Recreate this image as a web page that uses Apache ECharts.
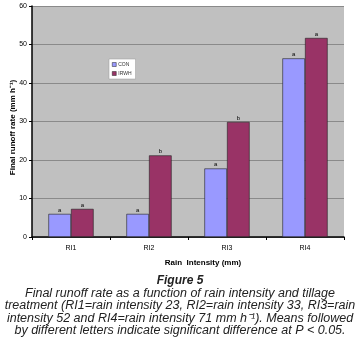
<!DOCTYPE html>
<html>
<head>
<meta charset="utf-8">
<script src="https://cdn.jsdelivr.net/npm/echarts@6/dist/echarts.min.js"></script>
<style>
  html, body { margin: 0; padding: 0; background: #fff; }
  #chart { width: 359px; height: 356px; }
</style>
</head>
<body>
<div id="chart"></div>
<script>
// data
const categories = ['RI1', 'RI2', 'RI3', 'RI4'];
const conValues = [6.0, 6.0, 17.8, 46.4];
const irwhValues = [7.3, 21.2, 29.9, 51.7];
const conLetters = ['a', 'a', 'a', 'a'];
const irwhLetters = ['a', 'b', 'b', 'a'];
const captionLines = [
  'Final runoff rate as a function of rain intensity and tillage',
  'treatment (RI1=rain intensity 23, RI2=rain intensity 33, RI3=rain',
  'intensity 52 and RI4=rain intensity 71 mm h\u207B\u00B9). Means followed',
  'by different letters indicate significant difference at P < 0.05.'
];

const chart = echarts.init(document.getElementById('chart'), null, { renderer: 'canvas' });

function letterLabel(letters) {
  return {
    show: true,
    position: 'top',
    distance: 1,
    fontSize: 6,
    color: '#000',
    fontFamily: 'Liberation Sans',
    formatter: p => letters[p.dataIndex]
  };
}

chart.setOption({
  animation: false,
  textStyle: { fontFamily: 'Liberation Sans' },
  grid: {
    left: 32, right: 15, top: 6, bottom: 119,
    outerBoundsMode: 'none', containLabel: false,
    backgroundColor: '#c0c0c0', show: true, borderWidth: 0
  },
  legend: {
    left: 109, top: 59,
    orient: 'vertical',
    icon: 'rect',
    itemWidth: 4, itemHeight: 4, itemGap: 4,
    padding: [3, 4, 3, 3],
    backgroundColor: '#fff',
    borderColor: '#999', borderWidth: 0.5,
    textStyle: { fontSize: 5, color: '#333', padding: [0, 0, 0, -3] },
    itemStyle: { borderColor: '#222', borderWidth: 0.5 },
    data: ['CON', 'IRWH']
  },
  xAxis: {
    type: 'category',
    data: categories,
    name: 'Rain  Intensity (mm)',
    nameLocation: 'middle',
    nameGap: 22,
    nameMoveOverlap: false,
    nameTextStyle: { fontSize: 8, fontWeight: 'bold', color: '#000', padding: [0, 0, 0, 30] },
    axisLine: { lineStyle: { color: '#000', width: 1.5 } },
    axisTick: { show: true, length: 3, lineStyle: { color: '#000' } },
    axisLabel: { fontSize: 7, color: '#000', margin: 8 }
  },
  yAxis: {
    type: 'value',
    min: 0, max: 60, interval: 10,
    name: 'Final runoff rate (mm h\u207B\u00B9)',
    nameLocation: 'middle',
    nameRotate: 90,
    nameGap: 15,
    nameMoveOverlap: false,
    nameTextStyle: { fontSize: 8, fontWeight: 'bold', color: '#000', padding: [0, 12, 0, 0] },
    axisLine: { show: true, lineStyle: { color: '#000', width: 1.5 } },
    axisTick: { show: true, length: 3, lineStyle: { color: '#000' } },
    axisLabel: { fontSize: 7, color: '#000', margin: 5 },
    splitLine: { lineStyle: { color: '#8a8a8a', width: 1 } }
  },
  series: [
    {
      name: 'CON', type: 'bar', data: conValues,
      barGap: '0%', barCategoryGap: '42%',
      itemStyle: { color: '#9999ff', borderColor: '#222', borderWidth: 0.6 },
      label: letterLabel(conLetters)
    },
    {
      name: 'IRWH', type: 'bar', data: irwhValues,
      itemStyle: { color: '#993366', borderColor: '#222', borderWidth: 0.6 },
      label: letterLabel(irwhLetters)
    }
  ],
  graphic: [
    {
      type: 'text', x: 180, y: 275,
      style: { text: 'Figure 5', font: 'italic bold 12px "Liberation Sans"', fill: '#222', align: 'center' }
    },
    {
      type: 'text', x: 180, y: 287,
      style: {
        text: captionLines.join('\n'),
        font: 'italic 12.5px "Liberation Sans"',
        lineHeight: 12.5,
        align: 'center',
        fill: '#222'
      }
    }
  ]
});
</script>
</body>
</html>
